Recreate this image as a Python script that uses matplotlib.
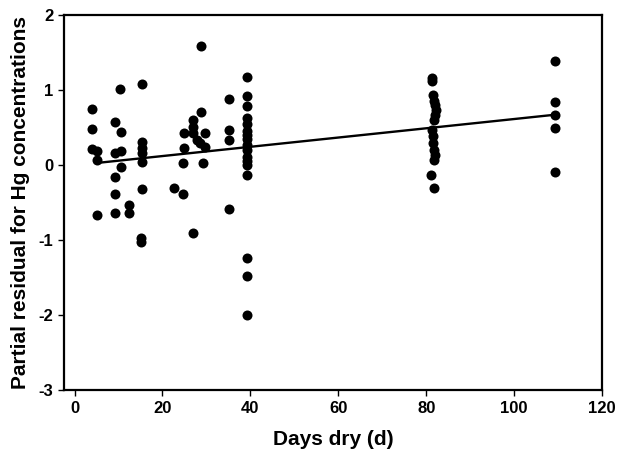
import matplotlib
matplotlib.use("Agg")
import matplotlib.pyplot as plt

plt.rcParams['font.family'] = ['Liberation Sans', 'DejaVu Sans']

days_dry = [
    4.0, 4.0, 4.0, 5.0, 5.0, 5.1,
    10.3, 9.2, 10.5, 9.2, 10.5, 10.5, 9.2, 9.2, 9.2, 12.4, 12.4,
    15.3, 15.3, 15.3, 15.3, 15.3, 15.3, 15.2, 15.2,
    28.7, 28.7, 27.0, 27.0, 24.9, 27.0, 29.7, 27.8, 28.5, 24.9, 29.7,
    24.6, 29.3, 22.6, 24.6, 27.0,
    35.2, 35.2, 35.2, 35.2,
    39.2, 39.2, 39.2, 39.2, 39.2, 39.2, 39.2, 39.2, 39.2, 39.2, 39.2,
    39.2, 39.2, 39.2, 39.2, 39.2, 39.2,
    81.3, 81.3, 81.6, 81.8, 82.0, 82.2, 82.0, 81.8, 81.3, 81.6, 81.6,
    81.8, 82.0, 81.8, 81.0, 81.8,
    109.4, 109.4, 109.4, 109.4, 109.4,
]
residual = [
    0.74, 0.48, 0.21, 0.18, 0.07, -0.66,
    1.01, 0.57, 0.44, 0.16, 0.19, -0.03, -0.16, -0.39, -0.64, -0.53, -0.64,
    1.08, 0.31, 0.22, 0.16, 0.04, -0.32, -0.97, -1.02,
    1.58, 0.70, 0.60, 0.51, 0.42, 0.42, 0.42, 0.33, 0.29, 0.22, 0.24,
    0.02, 0.02, -0.31, -0.39, -0.90,
    0.88, 0.47, 0.33, -0.59,
    1.17, 0.92, 0.78, 0.62, 0.55, 0.45, 0.40, 0.35, 0.27, 0.20, 0.10,
    0.05, 0.00, -0.14, -1.24, -1.48, -2.00,
    1.16, 1.12, 0.93, 0.85, 0.80, 0.73, 0.67, 0.60, 0.47, 0.38, 0.29,
    0.20, 0.13, 0.07, -0.13, -0.31,
    1.39, 0.84, 0.67, 0.49, -0.09,
]
fit_x = [5.6, 109.4]
fit_y = [0.03, 0.67]

x_ticks = [0, 20, 40, 60, 80, 100, 120]
y_ticks = [-3, -2, -1, 0, 1, 2]

fig = plt.figure(figsize=(6.2, 4.5), dpi=100)
ax = fig.add_axes([0.104, 0.133, 0.867, 0.834])

ax.scatter(days_dry, residual, s=52, color='black', zorder=3, linewidths=0)
ax.plot(fit_x, fit_y, color='black', linewidth=1.7, zorder=2)

ax.set_xlim(-2.3, 120)
ax.set_ylim(-3, 2)
ax.set_xticks(x_ticks)
ax.set_yticks(y_ticks)
ax.set_xticklabels([str(v) for v in x_ticks], fontsize=12, fontweight='bold')
ax.set_yticklabels([str(v) for v in y_ticks], fontsize=12, fontweight='bold')
ax.tick_params(direction='out', length=4, width=1.0, pad=4)
for s in ax.spines.values():
    s.set_linewidth(1.6)

ax.set_xlabel('Days dry (d)', fontsize=15, fontweight='bold', labelpad=10)
ax.set_ylabel('Partial residual for Hg concentrations', fontsize=15,
              fontweight='bold', labelpad=6)

fig.savefig('out.png', dpi=100)
